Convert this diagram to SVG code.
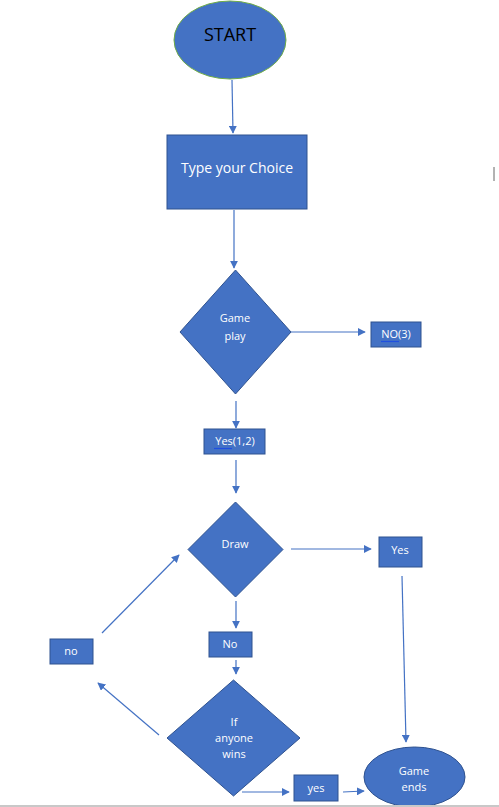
<svg xmlns="http://www.w3.org/2000/svg" width="499" height="807" viewBox="0 0 499 807">
  <style>
    .shape { fill: #4472C4; stroke: #2F528F; stroke-width: 1; }
    .start { fill: #4472C4; stroke: #70AD47; stroke-width: 1; }
    .lbl { font-family: "Segoe UI", "Open Sans", "Liberation Sans", sans-serif; fill: #ffffff; font-size: 11px; text-anchor: middle; }
    .big { font-size: 14px; }
    .conn { stroke: #4472C4; stroke-width: 1.2; fill: none; marker-end: url(#arrow); }
    .squiggle { stroke: #1F4FE0; stroke-width: 1.2; }
  </style>
  <defs>
    <marker id="arrow" viewBox="0 0 10 10" refX="9" refY="5" markerWidth="8" markerHeight="8" markerUnits="userSpaceOnUse" orient="auto">
      <path d="M0,0 L10,5 L0,10 z" fill="#4472C4"/>
    </marker>
  </defs>

  <rect width="499" height="807" fill="#ffffff"/>

  <!-- connectors -->
  <g id="connectors">
    <line class="conn" x1="232" y1="80" x2="233" y2="133"/>
    <line class="conn" x1="234" y1="210" x2="234" y2="268"/>
    <line class="conn" x1="291" y1="332" x2="365" y2="332"/>
    <line class="conn" x1="236" y1="401" x2="236" y2="428"/>
    <line class="conn" x1="236" y1="460" x2="236" y2="493"/>
    <line class="conn" x1="291" y1="549" x2="371" y2="549"/>
    <line class="conn" x1="402" y1="576" x2="406" y2="742"/>
    <line class="conn" x1="236" y1="601" x2="236" y2="628"/>
    <line class="conn" x1="236" y1="660" x2="236" y2="674"/>
    <line class="conn" x1="102" y1="633" x2="179" y2="555"/>
    <line class="conn" x1="159" y1="735" x2="98" y2="683"/>
    <line class="conn" x1="242" y1="792" x2="289" y2="792"/>
    <line class="conn" x1="343" y1="792" x2="364" y2="791"/>
  </g>

  <g id="start">
    <ellipse class="start" cx="230" cy="40" rx="56" ry="39"/>
    <text x="230" y="41" font-family="'Segoe UI', 'Open Sans', 'Liberation Sans', sans-serif" font-size="18" fill="#000000" text-anchor="middle">START</text>
  </g>

  <g id="type-choice">
    <rect class="shape" x="167" y="135" width="140" height="74"/>
    <text class="lbl big" x="237" y="173">Type your Choice</text>
  </g>

  <g id="game-play">
    <polygon class="shape" points="235.5,270 291,332 235.5,394 180,332"/>
    <text class="lbl" x="235" y="322">Game</text>
    <text class="lbl" x="235" y="340">play</text>
  </g>

  <g id="no-3">
    <rect class="shape" x="371" y="322" width="50" height="25"/>
    <text class="lbl" x="396" y="338">NO(3)</text>
    <line class="squiggle" x1="381" y1="341.5" x2="399" y2="341.5"/>
  </g>

  <g id="yes-1-2">
    <rect class="shape" x="204" y="429" width="61" height="25"/>
    <text class="lbl" x="235" y="445">Yes(1,2)</text>
    <line class="squiggle" x1="214" y1="448.5" x2="232" y2="448.5"/>
  </g>

  <g id="draw">
    <polygon class="shape" points="235.5,502 283,549.5 235.5,597 188,549.5"/>
    <text class="lbl" x="235" y="548">Draw</text>
  </g>

  <g id="draw-yes">
    <rect class="shape" x="379" y="537" width="43" height="30"/>
    <text class="lbl" x="400" y="554">Yes</text>
  </g>

  <g id="draw-no">
    <rect class="shape" x="209" y="632" width="43" height="25"/>
    <text class="lbl" x="230" y="648">No</text>
  </g>

  <g id="loop-no">
    <rect class="shape" x="50" y="639" width="43" height="25"/>
    <text class="lbl" x="71" y="655">no</text>
  </g>

  <g id="anyone-wins">
    <polygon class="shape" points="233.5,680 300,738 233.5,796 167,738"/>
    <text class="lbl" x="234" y="726">If</text>
    <text class="lbl" x="234" y="742">anyone</text>
    <text class="lbl" x="234" y="758">wins</text>
  </g>

  <g id="wins-yes">
    <rect class="shape" x="294" y="775" width="44" height="26"/>
    <text class="lbl" x="316" y="792">yes</text>
  </g>

  <g id="game-ends">
    <ellipse class="shape" cx="414.5" cy="777" rx="50.5" ry="30"/>
    <text class="lbl" x="414" y="775">Game</text>
    <text class="lbl" x="414" y="791">ends</text>
  </g>

  <!-- page edge and caret -->
  <rect x="0" y="805" width="499" height="2" fill="#c8c8c8"/>
  <line x1="494" y1="167" x2="494" y2="181" stroke="#666666" stroke-width="1"/>
</svg>
